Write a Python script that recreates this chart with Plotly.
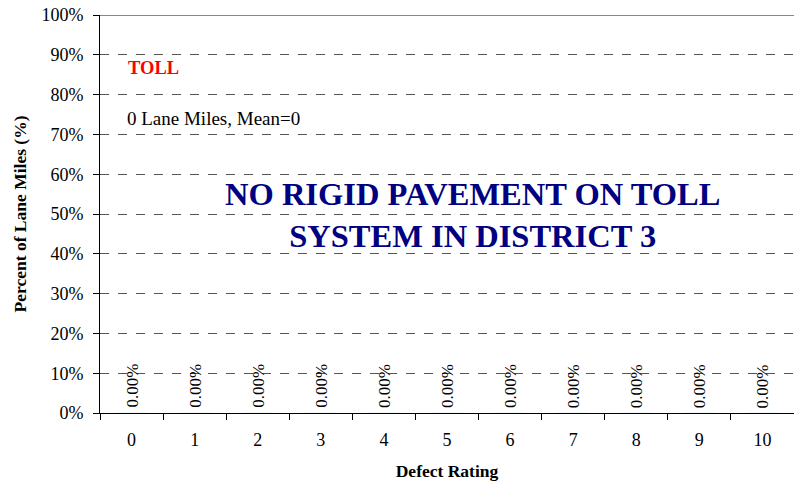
import plotly.graph_objects as go

categories = ["0", "1", "2", "3", "4", "5", "6", "7", "8", "9", "10"]
values = [0, 0, 0, 0, 0, 0, 0, 0, 0, 0, 0]
value_labels = ["0.00%"] * 11
y_ticks = [0, 10, 20, 30, 40, 50, 60, 70, 80, 90, 100]
y_tick_labels = [f"{v}%" for v in y_ticks]

FONT = "Liberation Serif"

fig = go.Figure()
fig.add_trace(go.Bar(x=categories, y=values, marker_color="#333399", width=0.5,
                     hoverinfo="skip"))

for c, v, t in zip(categories, values, value_labels):
    fig.add_annotation(x=c, y=v, text=t, textangle=-90, showarrow=False,
                       xanchor="center", yanchor="bottom", yshift=3,
                       font=dict(family=FONT, size=17, color="black"))

fig.add_annotation(xref="paper", yref="paper", x=0.537, y=0.497,
                   text="<b>NO RIGID PAVEMENT ON TOLL<br>SYSTEM IN DISTRICT 3</b>",
                   showarrow=False, xanchor="center", yanchor="middle",
                   font=dict(family=FONT, size=32.5, color="#000080"))
fig.add_annotation(xref="paper", yref="paper", x=0.038, y=0.867,
                   text="<b>TOLL</b>", showarrow=False, xanchor="left",
                   yanchor="middle",
                   font=dict(family=FONT, size=18.5, color="#FF0000"))
fig.add_annotation(xref="paper", yref="paper", x=0.036, y=0.74,
                   text="0 Lane Miles, Mean=0", showarrow=False, xanchor="left",
                   yanchor="middle",
                   font=dict(family=FONT, size=19, color="black"))

fig.add_shape(type="line", xref="paper", yref="y", x0=0, x1=1, y0=100, y1=100,
              line=dict(color="#888888", width=2))

fig.update_layout(
    width=794, height=484,
    margin=dict(l=100, r=0, t=15, b=71),
    paper_bgcolor="white", plot_bgcolor="white",
    showlegend=False,
    font=dict(family=FONT, size=18, color="black"),
    xaxis=dict(
        type="category", tickson="boundaries", ticks="outside", ticklen=6,
        tickcolor="black", showline=True, linecolor="black", linewidth=1,
        showgrid=False, tickfont=dict(family=FONT, size=18), automargin=False,
        ticklabelstandoff=10,
        title=dict(text="<b>Defect Rating</b>", standoff=16,
                   font=dict(family=FONT, size=17.5)),
    ),
    yaxis=dict(
        range=[0, 100], tickvals=y_ticks, ticktext=y_tick_labels,
        ticks="outside", ticklen=6, tickcolor="black",
        showline=True, linecolor="black", linewidth=1,
        showgrid=True, gridcolor="#555555", griddash="dash", gridwidth=1,
        zeroline=False, tickfont=dict(family=FONT, size=18), automargin=False,
        ticklabelstandoff=6,
        title=dict(text="<b>Percent of Lane Miles (%)</b>", standoff=10,
                   font=dict(family=FONT, size=17.5)),
    ),
)

fig.write_html("out.html", config={"displayModeBar": False},
               post_script="document.body.style.margin='0';")
